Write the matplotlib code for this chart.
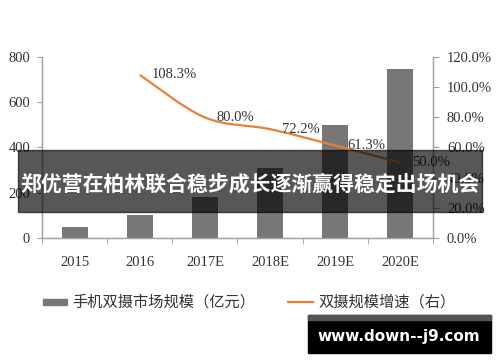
import numpy as np
import matplotlib
matplotlib.use("Agg")
import matplotlib.pyplot as plt
from matplotlib.path import Path
from matplotlib.patches import PathPatch, Rectangle
from matplotlib.lines import Line2D

plt.rcParams['font.family'] = ['Liberation Serif', 'Noto Sans CJK SC', 'DejaVu Sans']

# data
years = ['2015', '2016', '2017E', '2018E', '2019E', '2020E']
market = [46, 100, 180, 310, 500, 750]          # 手机双摄市场规模（亿元）
growth_years = ['2016', '2017E', '2018E', '2019E', '2020E']
growth = [108.3, 80.0, 72.2, 61.3, 50.0]        # 双摄规模增速（右）, %
left_ticks = [0, 200, 400, 600, 800]
right_ticks = [0, 20, 40, 60, 80, 100, 120]

bar_col = '#777777'
line_col = '#E8803A'
axis_col = '#a0a0a0'
txt_col = '#333333'

fig = plt.figure(figsize=(5, 3.62), dpi=100)
ax = fig.add_axes([0.084, 0.3434, 0.782, 0.4983])
ax2 = ax.twinx()

x = np.arange(len(years))
ax.bar(x, market, width=0.4, color=bar_col, zorder=2)
ax.set_xlim(-0.5, len(years) - 0.5)
ax.set_ylim(0, 800)
ax.set_yticks(left_ticks)
ax.set_xticks(x)
ax.set_xticklabels(years)
ax.set_xticks(np.arange(-0.5, len(years)), minor=True)
ax.tick_params(axis='x', which='major', length=0, pad=13, labelsize=10.5, labelcolor=txt_col)
ax.tick_params(axis='x', which='minor', length=4, color=axis_col, direction='out')
ax.tick_params(axis='y', length=3.5, color=axis_col, pad=5, labelsize=10.5, labelcolor=txt_col)

ax2.set_ylim(0, 120)
ax2.set_yticks(right_ticks)
ax2.set_yticklabels(['%.1f%%' % v for v in right_ticks])
ax2.tick_params(axis='y', length=4, color=axis_col, pad=6, labelsize=10.5, labelcolor=txt_col)

for a in (ax, ax2):
    a.spines['top'].set_visible(False)
    for s in ('left', 'right', 'bottom'):
        a.spines[s].set_color(axis_col)
        a.spines[s].set_linewidth(0.9)

# smoothed growth line (Catmull-Rom as cubic bezier)
gx = np.array([years.index(y) for y in growth_years], dtype=float)
gy = np.array(growth)
pts = np.column_stack([gx, gy])
ext = np.vstack([pts[0], pts, pts[-1]])
verts = [tuple(pts[0])]
codes = [Path.MOVETO]
for i in range(len(pts) - 1):
    p0, p1, p2, p3 = ext[i], ext[i + 1], ext[i + 2], ext[i + 3]
    c1 = p1 + (p2 - p0) / 6
    c2 = p2 - (p3 - p1) / 6
    verts += [tuple(c1), tuple(c2), tuple(p2)]
    codes += [Path.CURVE4] * 3
ax2.add_patch(PathPatch(Path(verts, codes), fill=False, edgecolor=line_col, lw=1.6, zorder=3))

for xi, v in zip(gx, gy):
    ax2.text(xi + 0.18, v, '%.1f%%' % v, fontsize=10.5, color=txt_col, va='center', ha='left', zorder=4)

# legend
fig.patches.append(Rectangle((43 / 500, 1 - 305 / 362), 24 / 500, 6 / 362,
                             transform=fig.transFigure, color=bar_col))
fig.text(72 / 500, 1 - 302 / 362, '手机双摄市场规模（亿元）', fontsize=11, color=txt_col,
         family=['Noto Sans CJK SC'], fontweight='medium', va='center', ha='left')
fig.lines.append(Line2D([288 / 500, 313 / 500], [1 - 302 / 362] * 2, transform=fig.transFigure,
                        color=line_col, lw=1.6))
fig.text(318 / 500, 1 - 302 / 362, '双摄规模增速（右）', fontsize=11, color=txt_col,
         family=['Noto Sans CJK SC'], fontweight='medium', va='center', ha='left')

# overlay banner
fig.patches.append(Rectangle((18 / 500, 1 - 212 / 362), 464 / 500, 62 / 362,
                             transform=fig.transFigure, color='black', alpha=0.66, zorder=10))
fig.text(0.5, 1 - 184 / 362, '郑优营在柏林联合稳步成长逐渐赢得稳定出场机会', fontsize=15,
         fontweight='bold', color='white', family=['Noto Sans CJK SC'],
         ha='center', va='center', zorder=11)

# watermark
fig.patches.append(Rectangle((308 / 500, 1 - 353 / 362), 183 / 500, 38 / 362,
                             transform=fig.transFigure, color='black', zorder=10))
fig.patches.append(Rectangle((308 / 500, 1 - 320 / 362), 183 / 500, 5 / 362,
                             transform=fig.transFigure, color='#555555', zorder=10))
fig.text(399 / 500, 1 - 337 / 362, 'www.down--j9.com', fontsize=11, fontweight='bold',
         color='white', family=['DejaVu Sans'], ha='center', va='center', zorder=11)

fig.savefig('out.png', dpi=100)
